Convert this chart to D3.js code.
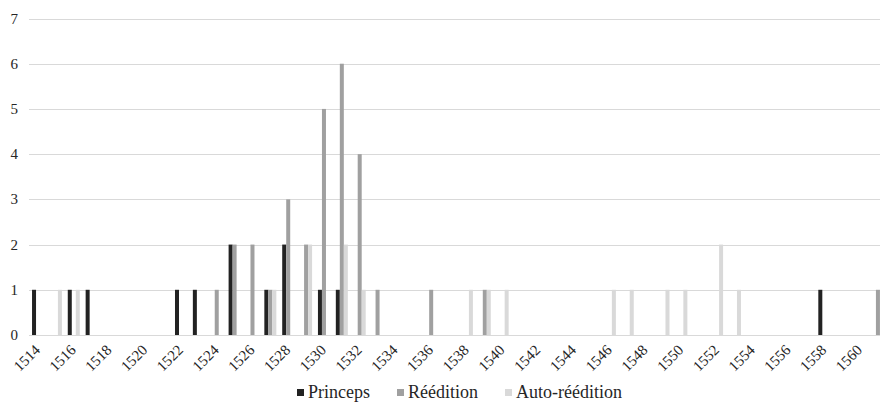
<!DOCTYPE html>
<html>
<head>
<meta charset="utf-8">
<script src="https://cdn.jsdelivr.net/npm/d3@7/dist/d3.min.js"></script>
<style>
  body { margin: 0; background: #fff; }
  text { font-family: "Liberation Serif", serif; }
</style>
</head>
<body>
<svg id="chart" width="880" height="404"></svg>
<script>
// years 1514 .. 1561
var years = d3.range(1514, 1562);
var seriesNames = ['Princeps', 'Réédition', 'Auto-réédition'];
var seriesColors = ['#222222', '#a0a0a0', '#d9d9d9'];

// counts per year (only the non-zero years are listed)
var princeps = { 1514: 1, 1516: 1, 1517: 1, 1522: 1, 1523: 1, 1525: 2, 1527: 1, 1528: 2, 1530: 1, 1531: 1, 1558: 1 };
var reedition = { 1524: 1, 1525: 2, 1526: 2, 1527: 1, 1528: 3, 1529: 2, 1530: 5, 1531: 6, 1532: 4, 1533: 1, 1536: 1, 1539: 1, 1561: 1 };
var autoReedition = { 1515: 1, 1516: 1, 1527: 1, 1529: 2, 1531: 2, 1532: 1, 1538: 1, 1539: 1, 1540: 1, 1546: 1, 1547: 1, 1549: 1, 1550: 1, 1552: 2, 1553: 1 };

var yTicks = [0, 1, 2, 3, 4, 5, 6, 7];
var xLabels = years.filter(function(y) { return (y - 1514) % 2 === 0 && y <= 1560; });

var seriesData = [princeps, reedition, autoReedition];

var svg = d3.select('#chart');

var x0 = d3.scaleBand()
	.domain(years)
	.range([29.1, 29.1 + 48 * 17.87])
	.padding(0);

var x1 = d3.scaleBand()
	.domain(seriesNames)
	.range([x0.bandwidth() * 0.164, x0.bandwidth() * 0.836])
	.padding(0);

var y = d3.scaleLinear()
	.domain([0, 7])
	.range([335, 18.5]);

// gridlines
svg.append('g')
	.selectAll('line')
	.data(yTicks)
	.enter().append('line')
	.attr('x1', 29)
	.attr('x2', 880)
	.attr('y1', function(d) { return Math.round(y(d)) + 0.5; })
	.attr('y2', function(d) { return Math.round(y(d)) + 0.5; })
	.attr('stroke', '#d9d9d9')
	.attr('stroke-width', 1);

// y labels
svg.append('g')
	.selectAll('text')
	.data(yTicks)
	.enter().append('text')
	.attr('x', 18)
	.attr('y', function(d) { return y(d) + 5; })
	.attr('text-anchor', 'end')
	.attr('font-size', 15)
	.attr('fill', '#262626')
	.text(function(d) { return d; });

// bars
var groups = svg.append('g')
	.selectAll('g')
	.data(years)
	.enter().append('g')
	.attr('transform', function(d) { return 'translate(' + x0(d) + ',0)'; });

groups.selectAll('rect')
	.data(function(yr) {
		return seriesNames.map(function(name, i) {
			return { key: name, value: seriesData[i][yr] || 0, color: seriesColors[i] };
		});
	})
	.enter().append('rect')
	.filter(function(d) { return d.value > 0; })
	.attr('x', function(d) { return x1(d.key); })
	.attr('width', x1.bandwidth())
	.attr('y', function(d) { return y(d.value); })
	.attr('height', function(d) { return y(0) - y(d.value); })
	.attr('fill', function(d) { return d.color; });

// x labels, rotated 45 degrees
svg.append('g')
	.selectAll('text')
	.data(xLabels)
	.enter().append('text')
	.attr('transform', function(d) {
		return 'translate(' + (x0(d) + x0.bandwidth() / 2 + 3) + ',351) rotate(-45)';
	})
	.attr('text-anchor', 'end')
	.attr('font-size', 15)
	.attr('fill', '#262626')
	.text(function(d) { return d; });

// legend
var legend = svg.append('g');
var legendX = [297, 397, 505];
seriesNames.forEach(function(name, i) {
	legend.append('rect')
		.attr('x', legendX[i])
		.attr('y', 389)
		.attr('width', 7)
		.attr('height', 7)
		.attr('fill', seriesColors[i]);
	legend.append('text')
		.attr('x', legendX[i] + 11)
		.attr('y', 398)
		.attr('font-size', 18)
		.attr('fill', '#262626')
		.text(name);
});
</script>
</body>
</html>
